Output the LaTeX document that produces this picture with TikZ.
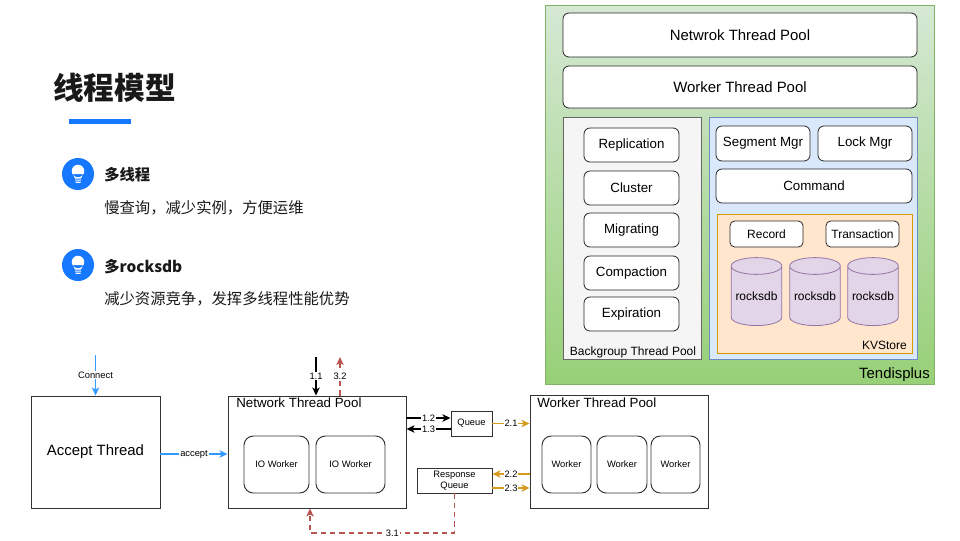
\documentclass[tikz,border=0pt]{standalone}
\usepackage{fontspec}
\setmainfont{Liberation Sans}
\newfontfamily\cjk{Noto Sans CJK SC}
\usetikzlibrary{arrows.meta,shapes.geometric}
\definecolor{gline}{HTML}{82B366}
\definecolor{gtop}{HTML}{D5E8D4}
\definecolor{gbot}{HTML}{97D077}
\definecolor{bgline}{HTML}{666666}
\definecolor{bgfill}{HTML}{F5F5F5}
\definecolor{bline}{HTML}{6C8EBF}
\definecolor{bfill}{HTML}{DAE8FC}
\definecolor{oline}{HTML}{D79B00}
\definecolor{ofill}{HTML}{FFE6CC}
\definecolor{cline}{HTML}{9673A6}
\definecolor{cfill}{HTML}{E1D5E7}
\definecolor{iconblue}{HTML}{1677FF}
\definecolor{arblue}{HTML}{3399FF}
\definecolor{arorange}{HTML}{D69A1E}
\definecolor{arred}{HTML}{B85450}
\newcommand\szT{\fontsize{23}{27}\selectfont}
\newcommand\szH{\fontsize{11.5}{14}\selectfont}
\newcommand\szL{\fontsize{11.2}{13}\selectfont}
\newcommand\szM{\fontsize{10}{12}\selectfont}
\newcommand\szS{\fontsize{9}{11}\selectfont}
\newcommand\szX{\fontsize{7}{8}\selectfont}
\begin{document}
\begin{tikzpicture}[x=0.75pt,y=-0.75pt,
    span/.style n args={4}{at={({(#1+#3)/2},{(#2+#4)/2})},
      minimum width={(#3-#1)*0.75pt}, minimum height={(#4-#2)*0.75pt}},
    rb/.style={draw=black!85, fill=white, rounded corners=4.5pt, inner sep=0pt, line width=0.6pt},
    pane/.style 2 args={draw=#1, fill=#2, inner sep=0pt, line width=0.75pt},
    sq/.style={draw=black!80, fill=white, inner sep=0pt, line width=0.7pt},
    wk/.style={sq, rounded corners=7pt},
    cyl/.style={cylinder, shape border rotate=90, aspect=0.4, draw=cline, fill=cfill, line width=0.6pt,
      minimum width=38pt, minimum height=51pt, inner sep=0pt, font=\szS},
    num/.style={fill=white, inner sep=0.6pt, font=\szX},
    blk/.style={-{Stealth[length=6pt,width=5.5pt,inset=1.5pt]}, line width=1.1pt},
    blu/.style={blk, draw=arblue},
    org/.style={blk, draw=arorange},
    rdd/.style={blk, draw=arred, dash pattern=on 4pt off 3pt}]
  \fill[white] (0,0) rectangle (960,540);
  \useasboundingbox (0,0) rectangle (960,540);

  \node[anchor=west, inner sep=0pt, font=\cjk\bfseries\szT, text=black!90] (title) at (53,88) {线程模型};
  \fill[iconblue] (69,119) rectangle (131,124);
  \foreach \n/\y in {ic1/174,ic2/265}{
    \node[circle, fill=iconblue, minimum size=24pt, inner sep=0pt] (\n) at (78,\y) {};
    \fill[white, shift={(\n)}] (0,-3) circle (4.7pt)
      (-5,0) -- (5,0) -- (3,4.5) -- (-3,4.5) -- cycle
      (-3,5.5) rectangle (3,6.7) (-2.5,7.7) rectangle (2.5,8.9);
  }
  \node[anchor=west, inner sep=0pt, font=\cjk\bfseries\szH, text=black!90] (h1) at (104,175) {多线程};
  \node[anchor=west, inner sep=0pt, font=\cjk\szH, text=black!90] (t1) at (104,208) {慢查询，减少实例，方便运维};
  \node[anchor=west, inner sep=0pt, font=\cjk\bfseries\szH, text=black!90] (h2) at (104,267) {多rocksdb};
  \node[anchor=west, inner sep=0pt, font=\cjk\szH, text=black!90] (t2) at (104,299) {减少资源竞争，发挥多线程性能优势};

  \node[span={545}{5}{934}{384}, draw=gline, top color=gtop, bottom color=gbot, inner sep=0pt] (tend) {};
  \node[anchor=base east, inner sep=0pt, font=\szL] (tendl) at (930,378) {Tendisplus};
  \node[rb, span={563}{13}{917}{57}, font=\szL] (netp) {Netwrok Thread Pool};
  \node[rb, span={563}{66}{917}{108}, font=\szL] (wrkp) {Worker Thread Pool};
  \node[pane={bgline}{bgfill}, span={563}{117}{701}{359}] (bgp) {};
  \node[anchor=base, inner sep=0pt, font=\szS] (bgl) at (633,355) {Backgroup Thread Pool};
  \foreach \n/\t/\y in {repl/Replication/128,clus/Cluster/171,migr/Migrating/213,comp/Compaction/256,expi/Expiration/297}
    \node[rb, span={584}{\y}{679}{\y+34}, font=\szM] (\n) {\t};
  \node[pane={bline}{bfill}, span={709}{117}{917}{359}] (core) {};
  \node[rb, span={716}{126}{810}{161}, font=\szM] (seg) {Segment Mgr};
  \node[rb, span={818}{126}{912}{161}, font=\szM] (lock) {Lock Mgr};
  \node[rb, span={716}{169}{912}{203}, font=\szM] (cmd) {Command};
  \node[pane={oline}{ofill}, span={717}{214}{912}{353}] (kvs) {};
  \node[anchor=base east, inner sep=0pt, font=\szS] (kvl) at (907,349) {KVStore};
  \node[rb, rounded corners=3.5pt, span={730}{221}{803}{247}, font=\szS] (rec) {Record};
  \node[rb, rounded corners=3.5pt, span={826}{221}{899}{247}, font=\szS] (trx) {Transaction};
  \foreach \n/\x in {db1/756.5,db2/815,db3/873}
    \node[cyl] (\n) at (\x,296) {rocksdb};

  \node[sq, span={31}{396}{160}{508}, font=\szL] (acc) {Accept Thread};
  \node[sq, span={228}{396}{406}{508}] (ntp) {};
  \node[anchor=west, inner sep=0pt, font=\szM] (ntpl) at (236,403) {Network Thread Pool};
  \node[wk, span={244}{436}{309}{493}, font=\szX] (iow1) {IO Worker};
  \node[wk, span={316}{436}{385}{493}, font=\szX] (iow2) {IO Worker};
  \node[sq, span={451}{411}{492}{436}, font=\szX] (queue) {Queue};
  \node[sq, span={417}{468}{492}{493}, font=\szX, align=center] (rq) {Response\\Queue};
  \node[sq, span={530}{395}{708}{508}] (wtp) {};
  \node[anchor=west, inner sep=0pt, font=\szM] (wtpl) at (537,403) {Worker Thread Pool};
  \foreach \n/\a/\b in {wk1/542/591,wk2/597/647,wk3/651/700}
    \node[wk, span={\a}{436}{\b}{493}, font=\szX] (\n) {Worker};

  \coordinate (cin) at (acc.north |- 0,355);
  \coordinate (in11) at (316,357);
  \coordinate (out32) at (340,357);
  \draw[blu] (cin) -- node[num]{Connect} (acc);
  \draw[blu] (acc.east |- 0,454) -- node[num]{accept} (ntp.west |- 0,454);
  \draw[blk] (in11) -- node[num]{1.1} (ntp.north -| in11);
  \draw[rdd] (ntp.north -| out32) -- node[num]{3.2} (out32);
  \draw[blk] (ntp.east |- 0,418) -- node[num]{1.2} (queue.west |- 0,418);
  \draw[blk] (queue.west |- 0,429) -- node[num]{1.3} (ntp.east |- 0,429);
  \draw[org] (queue.east) -- node[num]{2.1} (wtp.west |- queue.east);
  \draw[org] (wtp.west |- 0,474) -- node[num]{2.2} (rq.east |- 0,474);
  \draw[org] (rq.east |- 0,488) -- node[num]{2.3} (wtp.west |- 0,488);
  \draw[rdd] (rq.south) -- (rq.south |- 0,533) -- node[num, pos=0.43]{3.1} (310,533) -- (ntp.south -| 310,0);
\end{tikzpicture}
\end{document}
